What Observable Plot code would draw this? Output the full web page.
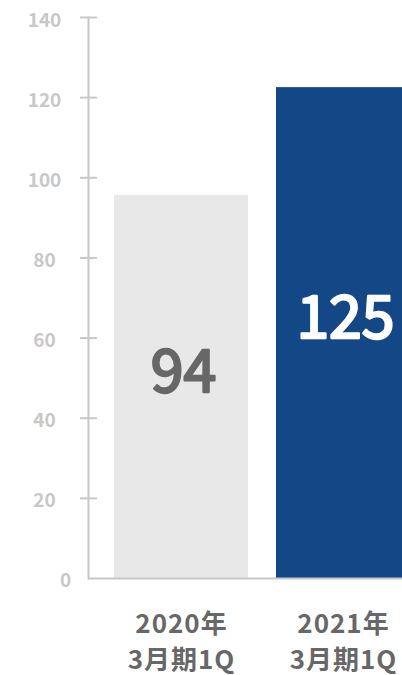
<!DOCTYPE html>
<html>
<head>
<meta charset="utf-8">
<script src="https://cdn.jsdelivr.net/npm/d3@7"></script>
<script src="https://cdn.jsdelivr.net/npm/@observablehq/plot@0.6"></script>
<style>
  html, body { margin: 0; padding: 0; background: #fff; overflow: hidden; }
  #chart svg { display: block; }
  .cat-label text { letter-spacing: 1px; }
</style>
</head>
<body>
<div id="chart"></div>
<script>
const categories = ["2020年\n3月期1Q", "2021年\n3月期1Q"];
const barValues = [95.6, 122.5];
const valueLabels = ["94", "125"];
const barColors = ["#e8e8e8", "#144785"];
const labelColors = ["#676767", "#ffffff"];
const yTicks = [20, 40, 60, 80, 100, 120, 140];

const data = categories.map((c, i) => ({
  category: c, value: barValues[i], label: valueLabels[i],
  color: barColors[i], labelColor: labelColors[i]
}));

const W = 402, H = 675, mL = 88, mT = 17, mB = 97;
const font = "'Noto Sans CJK JP', 'Noto Sans', sans-serif";
const axisColor = "#c8c8c8";

const chart = Plot.plot({
  width: W,
  height: H,
  marginLeft: mL,
  marginRight: 0,
  marginTop: mT,
  marginBottom: mB,
  style: { fontFamily: font, background: "#fff" },
  x: { domain: categories, range: [mL, 436], paddingInner: 0.173, paddingOuter: 0.16, axis: null },
  y: { domain: [0, 140], axis: null },
  marks: [
    Plot.barY(data, { x: "category", y: "value", fill: "color" }),
    Plot.frame({ anchor: "left", stroke: axisColor, strokeWidth: 2 }),
    Plot.ruleY([0], { stroke: axisColor, strokeWidth: 2 }),
    Plot.ruleY(yTicks, { y: d => d, stroke: axisColor, strokeWidth: 2, insetLeft: -8, insetRight: (W - mL) - 9 }),
    Plot.text(yTicks, { y: d => d, text: d => String(d), frameAnchor: "left", dx: -44, dy: 3, textAnchor: "middle", fontSize: 19, fill: "#c8c8c8", fontWeight: 700 }),
    Plot.text([0], { y: d => d, text: d => String(d), frameAnchor: "left", dx: -23, dy: 2, textAnchor: "middle", fontSize: 19, fill: "#c8c8c8", fontWeight: 700 }),
    Plot.text(data, { x: "category", y: d => d.value / 2, text: "label", fill: "labelColor", stroke: "labelColor", strokeWidth: 2.4, strokeLinejoin: "round", fontSize: 59, fontWeight: 400, dy: -14, dx: 2 }),
    Plot.text(data, { x: "category", y: () => 0, text: "category", fill: "#676767", fontSize: 26, fontWeight: 700, lineHeight: 1.38, dy: 61, className: "cat-label" })
  ]
});

document.getElementById("chart").appendChild(chart);
</script>
</body>
</html>
